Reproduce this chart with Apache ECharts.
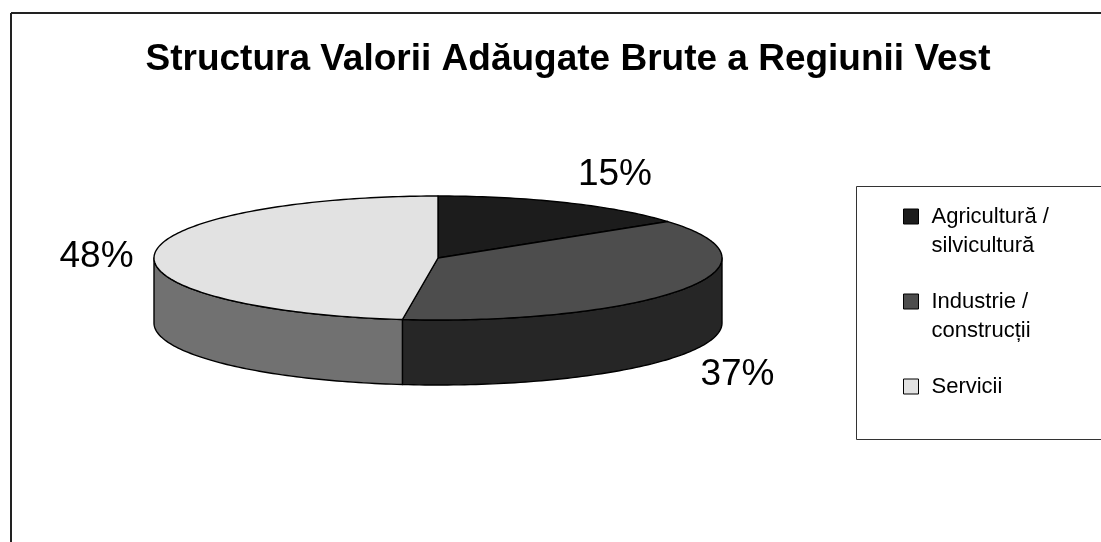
<!DOCTYPE html>
<html>
<head>
<meta charset="utf-8">
<style>
  html, body { margin: 0; padding: 0; background: #fff; }
  #chart { width: 1101px; height: 542px; }
</style>
<script src="https://cdn.jsdelivr.net/npm/echarts@6/dist/echarts.min.js"></script>
</head>
<body>
<div id="chart"></div>
<script>
var chart_title = 'Structura Valorii Adăugate Brute a Regiunii Vest';
var sectors = ['Agricultură /\nsilvicultură', 'Industrie /\nconstrucții', 'Servicii'];
var shares = [15, 37, 48];

var top_colors = ['#1c1c1c', '#4d4d4d', '#e2e2e2'];
var side_colors = ['#0e0e0e', '#262626', '#717171'];
// label position relative to the middle of the slice's rim
var label_shift = [[48, -28], [55, 20], [-58, 3]];

var cx = 438, cy = 258, rx = 284, ry = 62, depth = 65;
var font = '"Liberation Sans", Arial, sans-serif';

function rim(angle, drop) {
    return [cx + rx * Math.sin(angle), cy - ry * Math.cos(angle) + (drop || 0)];
}

function arc_points(from, to, drop) {
    var pts = [];
    var steps = Math.max(2, Math.ceil((to - from) / 0.02));
    for (var i = 0; i <= steps; i++) {
        pts.push(rim(from + (to - from) * i / steps, drop));
    }
    return pts;
}

function slice_angles(index) {
    var total = shares.reduce(function(a, b) { return a + b; }, 0);
    var before = 0;
    for (var i = 0; i < index; i++) before += shares[i];
    return [before / total * Math.PI * 2, (before + shares[index]) / total * Math.PI * 2];
}

function render_slice(index) {
    return function(params, api) {
        var angles = slice_angles(index);
        var start = angles[0], end = angles[1];
        var children = [];
        var line = { stroke: '#000', lineWidth: 1.4, lineJoin: 'round' };

        // side wall: only the part of the rim facing the viewer
        var wall_from = Math.max(start, Math.PI / 2);
        var wall_to = Math.min(end, Math.PI * 1.5);
        if (wall_to > wall_from) {
            var wall = arc_points(wall_from, wall_to, 0)
                .concat(arc_points(wall_from, wall_to, depth).reverse());
            children.push({
                type: 'polygon',
                shape: { points: wall },
                style: Object.assign({ fill: side_colors[index] }, line)
            });
        }

        children.push({
            type: 'polygon',
            shape: { points: [[cx, cy]].concat(arc_points(start, end, 0)) },
            style: Object.assign({ fill: top_colors[index] }, line)
        });

        var mid = (start + end) / 2;
        var front = Math.cos(mid) < 0;
        var anchor = rim(mid, front ? depth : 0);
        children.push({
            type: 'text',
            x: anchor[0] + label_shift[index][0],
            y: anchor[1] + label_shift[index][1],
            style: {
                text: api.value(0) + '%',
                font: '37px ' + font,
                fill: '#000',
                align: 'center',
                verticalAlign: 'middle'
            }
        });
        return { type: 'group', children: children };
    };
}

var option = {
    animation: false,
    backgroundColor: '#fff',
    title: {
        text: chart_title,
        left: 563,
        top: 36,
        textAlign: 'center',
        textStyle: { fontFamily: font, fontSize: 37, fontWeight: 'bold', color: '#000' }
    },
    legend: {
        orient: 'vertical',
        left: 903,
        top: 173,
        padding: 0,
        itemGap: -2,
        itemWidth: 15,
        itemHeight: 15,
        icon: 'rect',
        itemStyle: { borderColor: '#000', borderWidth: 1 },
        textStyle: { fontFamily: font, fontSize: 22, lineHeight: 29, color: '#000', padding: [0, 0, 0, 8] },
        // blank lines keep the first text line level with the swatch
        formatter: function(name) {
            return name.indexOf('\n') >= 0 ? '\n' + name : '\n' + name + '\n';
        },
        data: sectors
    },
    graphic: [
        { type: 'line', shape: { x1: 11, y1: 13, x2: 11, y2: 542 }, style: { stroke: '#222', lineWidth: 2 } },
        { type: 'line', shape: { x1: 11, y1: 13, x2: 1101, y2: 13 }, style: { stroke: '#222', lineWidth: 2 } },
        { type: 'rect', shape: { x: 856.5, y: 186.5, width: 260, height: 253 }, style: { fill: 'none', stroke: '#333', lineWidth: 1 } }
    ],
    series: sectors.map(function(name, i) {
        return {
            type: 'custom',
            name: name,
            coordinateSystem: 'none',
            itemStyle: { color: top_colors[i] },
            renderItem: render_slice(i),
            data: [[shares[i]]]
        };
    })
};

var my_chart = echarts.init(document.getElementById('chart'), null, { renderer: 'canvas' });
my_chart.setOption(option);
</script>
</body>
</html>
